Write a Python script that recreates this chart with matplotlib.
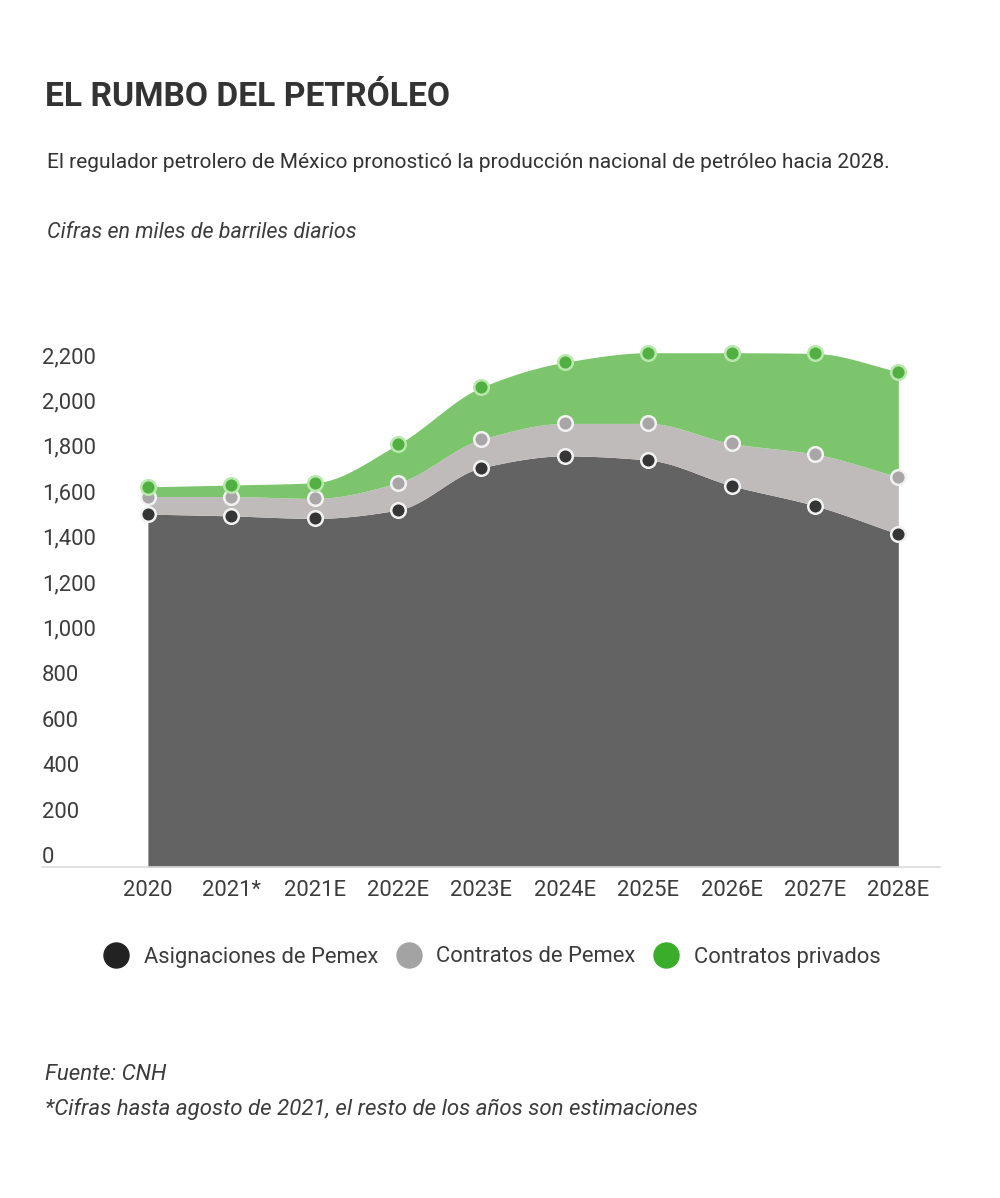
import numpy as np
import matplotlib
matplotlib.use("Agg")
import matplotlib.pyplot as plt
from matplotlib.lines import Line2D

# ---------------- data ----------------
categories = ["2020", "2021*", "2021E", "2022E", "2023E", "2024E",
              "2025E", "2026E", "2027E", "2028E"]
asignaciones_pemex = [1500, 1492, 1481, 1518, 1704, 1756, 1738, 1625, 1537, 1412]
contratos_pemex = [77, 85, 88, 120, 125, 143, 161, 186, 227, 252]
contratos_privados = [43, 51, 69, 169, 229, 269, 311, 399, 443, 463]
series_names = ["Asignaciones de Pemex", "Contratos de Pemex", "Contratos privados"]
y_ticks = [0, 200, 400, 600, 800, 1000, 1200, 1400, 1600, 1800, 2000, 2200]

title = "EL RUMBO DEL PETRÓLEO"
subtitle = "El regulador petrolero de México pronosticó la producción nacional de petróleo hacia 2028."
units = "Cifras en miles de barriles diarios"
source = "Fuente: CNH"
note = "*Cifras hasta agosto de 2021, el resto de los años son estimaciones"

# ---------------- style ----------------
plt.rcParams['font.family'] = ['Roboto', 'DejaVu Sans']
area_colors = ["#636363", "#bfbbbb", "#7cc56c"]
marker_face = ["#353535", "#a8a6a6", "#52b043"]
marker_edge = ["#f2f2f2", "#f2f2f2", "#b9e8ad"]
legend_colors = ["#222222", "#a3a3a3", "#3aae2a"]
text_dark = "#333333"
text_mid = "#3c3c3c"


def monotone_curve(x, y, n=30):
    """Fritsch-Carlson monotone cubic through the data points (for drawing)."""
    x = np.asarray(x, float)
    y = np.asarray(y, float)
    h = np.diff(x)
    d = np.diff(y) / h
    m = np.zeros_like(y)
    m[0], m[-1] = d[0], d[-1]
    for k in range(1, len(x) - 1):
        if d[k - 1] * d[k] <= 0:
            m[k] = 0.0
        else:
            w1 = 2 * h[k] + h[k - 1]
            w2 = h[k] + 2 * h[k - 1]
            m[k] = (w1 + w2) / (w1 / d[k - 1] + w2 / d[k])
    xs, ys = [], []
    for k in range(len(x) - 1):
        t = np.linspace(0, 1, n, endpoint=(k == len(x) - 2))
        h00 = 2 * t**3 - 3 * t**2 + 1
        h10 = t**3 - 2 * t**2 + t
        h01 = -2 * t**3 + 3 * t**2
        h11 = t**3 - t**2
        xs.append(x[k] + t * h[k])
        ys.append(h00 * y[k] + h10 * h[k] * m[k] + h01 * y[k + 1] + h11 * h[k] * m[k + 1])
    return np.concatenate(xs), np.concatenate(ys)


W, H = 1000, 1198
fig = plt.figure(figsize=(W / 100, H / 100), dpi=100)
fig.patch.set_facecolor("white")

ax_left, ax_right = 42, 940
ax_bottom, ax_top = 867, 340
ax = fig.add_axes([ax_left / W, 1 - ax_bottom / H,
                   (ax_right - ax_left) / W, (ax_bottom - ax_top) / H])

x = np.arange(len(categories))
tops = np.cumsum(np.array([asignaciones_pemex, contratos_pemex, contratos_privados], float), axis=0)

ymin, ymax = -52.8, 2266
ax.set_ylim(ymin, ymax)
ax.set_xlim(-1.27, 9.5)

prev = None
for i in range(3):
    xs, ys = monotone_curve(x, tops[i])
    if prev is None:
        ax.fill_between(xs, ymin, ys, color=area_colors[i], lw=0, zorder=1)
    else:
        ax.fill_between(xs, prev, ys, color=area_colors[i], lw=0, zorder=1)
    prev = ys

for i in range(3):
    ax.plot(x, tops[i], linestyle="none", marker="o", ms=10.5,
            mfc=marker_face[i], mec=marker_edge[i], mew=1.8, zorder=3 + i)

# axes styling
for s in ["left", "right", "top"]:
    ax.spines[s].set_visible(False)
ax.spines["bottom"].set_color("#dcdcdc")
ax.spines["bottom"].set_linewidth(1.2)
ax.spines["bottom"].set_position(("data", ymin))

ax.set_xticks(x)
ax.set_xticklabels(categories, fontsize=15.8, color=text_mid)
ax.tick_params(axis="x", length=0, pad=9)

ax.set_yticks(y_ticks)
ax.set_yticklabels([f"{v:,}" for v in y_ticks], fontsize=15.8, color=text_mid)
ax.tick_params(axis="y", length=0, pad=0)
for lab in ax.get_yticklabels():
    lab.set_horizontalalignment("left")

# texts
fig.text(45 / W, 1 - 97 / H, title, fontsize=24.2, fontweight="bold",
         color=text_dark, va="center", ha="left")
fig.text(47 / W, 1 - 163 / H, subtitle, fontsize=15.0, color=text_dark,
         va="center", ha="left")
fig.text(47 / W, 1 - 232 / H, units, fontsize=15.5, style="italic",
         color=text_mid, va="center", ha="left")
fig.text(45 / W, 1 - 1075 / H, source, fontsize=16, style="italic",
         color=text_mid, va="center", ha="left")
fig.text(45 / W, 1 - 1109 / H, note, fontsize=16, style="italic",
         color=text_mid, va="center", ha="left")

# legend
handles = [Line2D([], [], linestyle="none", marker="o", ms=18,
                  mfc=legend_colors[i], mec=legend_colors[i]) for i in range(3)]
fig.legend(handles, series_names, loc="center", bbox_to_anchor=(0.493, 1 - 957 / H),
           ncol=3, frameon=False, fontsize=15.8, handletextpad=0.75,
           columnspacing=0.9, handlelength=1.0, labelcolor=text_mid)

fig.savefig("out.png", dpi=100, facecolor="white")
